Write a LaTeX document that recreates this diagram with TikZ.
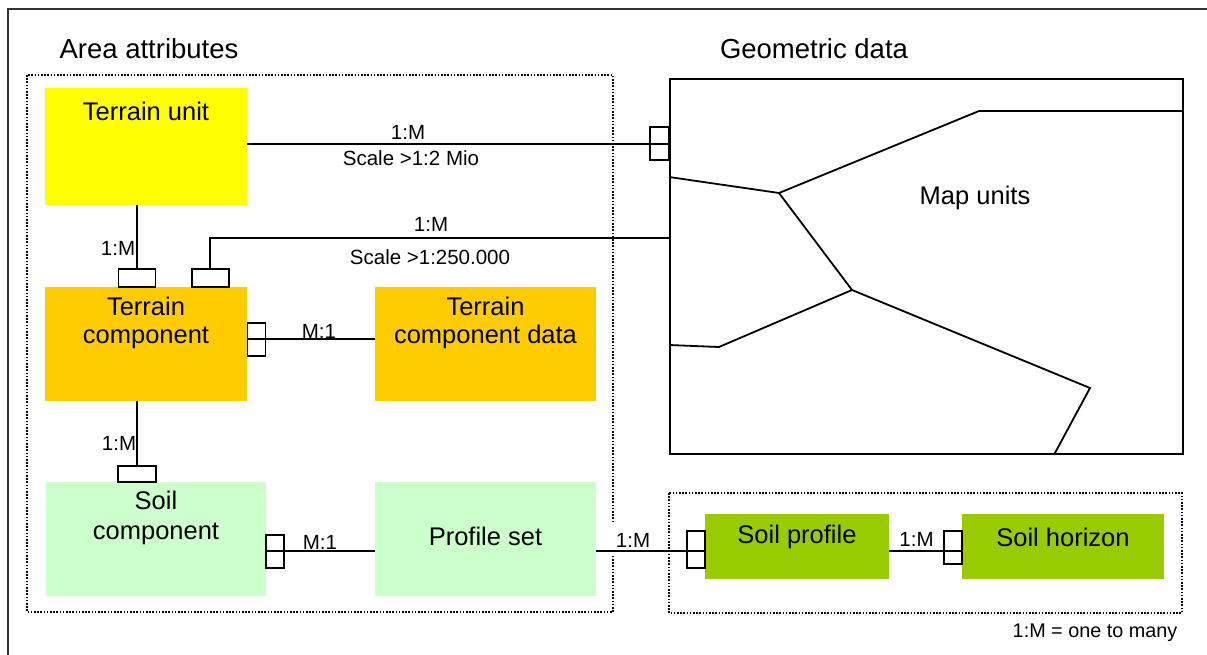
\documentclass[tikz,border=0pt]{standalone}
\usepackage{fontspec}
\setmainfont{Liberation Sans}
\definecolor{cyellow}{HTML}{FFFF00}
\definecolor{corange}{HTML}{FFCC00}
\definecolor{clgreen}{HTML}{CCFFCC}
\definecolor{cgreen}{HTML}{99CC00}
\definecolor{cframe}{HTML}{333333}
\tikzset{
  boxshape/.style={draw=none, inner sep=0pt, anchor=north west},
  boxtext/.style={font=\fontsize{25.5}{28}\selectfont, align=center, inner sep=0pt},
  headtext/.style={font=\fontsize{27.5}{30}\selectfont, inner sep=0pt},
  lbl/.style={font=\fontsize{20.5}{22}\selectfont, inner sep=1pt},
  card/.style={draw, line width=1.7pt, inner sep=0pt, fill=none},
  conn/.style={line width=1.7pt},
  dotbox/.style={line width=1.6pt, dash pattern=on 1.6pt off 1.6pt},
  mapline/.style={line width=1.8pt, line join=miter},
}
\begin{document}
\begin{tikzpicture}[x=1pt,y=-1pt]
\useasboundingbox (0,0) rectangle (1207,654);
% outer frame
\draw[cframe, line width=2.6pt] (8,660) -- (8,9) -- (1212,9);
% headings
\node[headtext] (hA) at (149,49) {Area attributes};
\node[headtext] (hG) at (814,49) {Geometric data};
% dotted groups
\draw[dotbox] (27,75) rectangle (613,612);
\draw[dotbox] (669,493) rectangle (1182,613);
% boxes
\node[boxshape, fill=cyellow, minimum width=202pt, minimum height=117pt] (tu) at (45,88) {};
\node[boxshape, fill=corange, minimum width=202pt, minimum height=114pt] (tc) at (45,287) {};
\node[boxshape, fill=corange, minimum width=221pt, minimum height=114pt] (tcd) at (375,287) {};
\node[boxshape, fill=clgreen, minimum width=220pt, minimum height=114pt] (sc) at (46,482) {};
\node[boxshape, fill=clgreen, minimum width=221pt, minimum height=114pt] (ps) at (375,482) {};
\node[boxshape, fill=cgreen, minimum width=184pt, minimum height=65pt] (sp) at (705,514) {};
\node[boxshape, fill=cgreen, minimum width=202pt, minimum height=65pt] (sh) at (962,514) {};
\node[boxshape, draw, line width=1.8pt, minimum width=513pt, minimum height=375pt] (map) at (669,78) {};
% box texts
\node[boxtext] (tut) at (146,111) {Terrain unit};
\node[boxtext, font=\fontsize{25.5}{28.5}\selectfont] (tct) at (146,323) {Terrain\\component};
\node[boxtext, font=\fontsize{25.5}{28.5}\selectfont] (tcdt) at (485.5,323) {Terrain\\component data};
\node[boxtext, font=\fontsize{25.5}{30}\selectfont] (sct) at (156,518) {Soil\\component};
\node[boxtext] (pst) at (485.5,536) {Profile set};
\node[boxtext] (spt) at (797,537) {Soil profile};
\node[boxtext] (sht) at (1063,537) {Soil horizon};
\node[boxtext] (mapt) at (975,198) {Map units};
% map boundaries
\draw[mapline] (map.west |- 0,111) ++(310,0) coordinate (m1) -- (map.east |- 0,111);
\coordinate (m2) at (779,193);
\coordinate (m3) at (852,290);
\coordinate (m4) at (719,347);
\coordinate (m5) at (1090,388);
\draw[mapline] (m1) -- (m2) -- (map.west |- 0,177);
\draw[mapline] (m2) -- (m3) -- (m4) -- (map.west |- 0,345);
\draw[mapline] (m3) -- (m5) -- (map.south -| 1054,0);
% connector labels (drawn before connectors)
\node[lbl] (l1) at (408,132) {1:M};
\node[lbl] (l1b) at (411,158) {Scale >1:2 Mio};
\node[lbl, fill=white, inner xsep=4pt] (l2) at (431,224) {1:M};
\node[lbl] (l2b) at (430,257) {Scale >1:250.000};
\node[lbl] (l3) at (118,248) {1:M};
\node[lbl] (l4) at (319,331) {M:1};
\node[lbl] (l5) at (119,443) {1:M};
\node[lbl] (l6) at (320,542) {M:1};
\node[lbl, fill=white, inner xsep=4pt, inner ysep=9pt] (l7) at (633,540) {1:M};
\node[lbl] (l8) at (916.5,539) {1:M};
\node[lbl, font=\fontsize{19.8}{22}\selectfont] (foot) at (1095,633) {1:M = one to many};
% cardinality markers
\node[card, minimum width=19pt, minimum height=33pt] (r1) at (659.5,143.5) {};
\node[card, minimum width=37pt, minimum height=18pt] (r2) at (210.5,278) {};
\node[card, minimum width=37pt, minimum height=18pt] (r3) at (137,278) {};
\node[card, minimum width=18pt, minimum height=33pt] (r4) at (256.6,339.3) {};
\node[card, minimum width=38pt, minimum height=16pt] (r5) at (137,474) {};
\node[card, minimum width=18pt, minimum height=33pt] (r6) at (275,551.5) {};
\node[card, minimum width=18pt, minimum height=37pt] (r7) at (696,549.5) {};
\node[card, minimum width=18pt, minimum height=33pt] (r8) at (953,547.5) {};
% connectors
\draw[conn] (tu.east |- 0,144) -- (map.west |- 0,144);
\draw[conn] (map.west |- 0,238) -- (210,238) -- (r2.north -| 210,0);
\draw[conn] (tu.south -| 137,0) -- (r3.north);
\draw[conn] (tc.east |- 0,339) -- (tcd.west |- 0,339);
\draw[conn] (tc.south -| 137,0) -- (r5.north);
\draw[conn] (sc.east |- 0,551) -- (ps.west |- 0,551);
\draw[conn] (ps.east |- 0,551) -- (sp.west |- 0,551);
\draw[conn] (sp.east |- 0,551) -- (sh.west |- 0,551);
\end{tikzpicture}
\end{document}
